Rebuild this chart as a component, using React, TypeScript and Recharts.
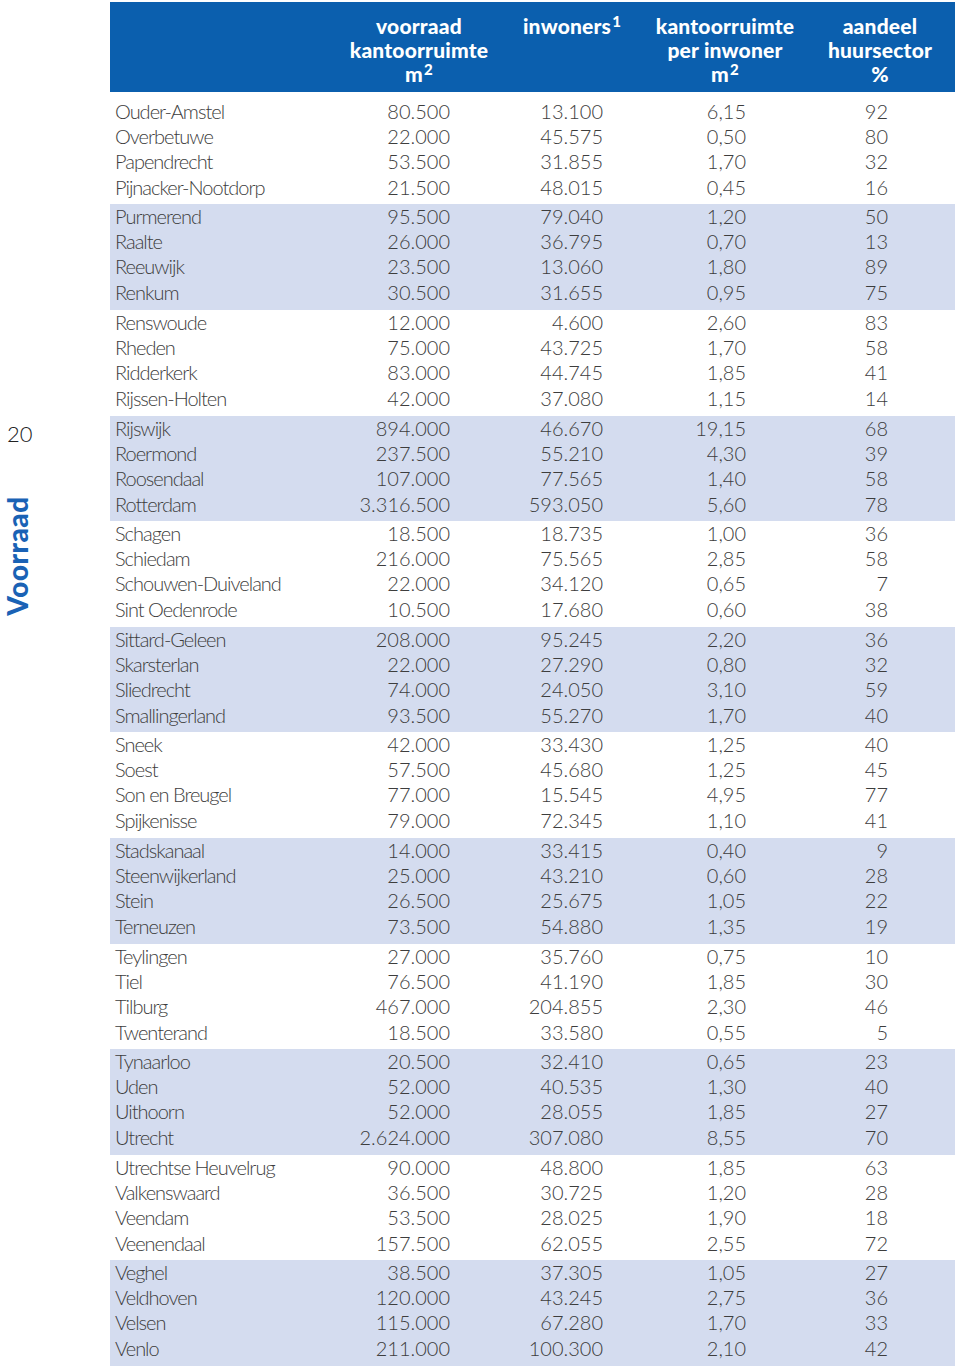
import React from 'react';
import { ComposedChart, Bar, XAxis, YAxis, LabelList } from 'recharts';

const gemeenten = [
  'Ouder-Amstel', 'Overbetuwe', 'Papendrecht', 'Pijnacker-Nootdorp',
  'Purmerend', 'Raalte', 'Reeuwijk', 'Renkum',
  'Renswoude', 'Rheden', 'Ridderkerk', 'Rijssen-Holten',
  'Rijswijk', 'Roermond', 'Roosendaal', 'Rotterdam',
  'Schagen', 'Schiedam', 'Schouwen-Duiveland', 'Sint Oedenrode',
  'Sittard-Geleen', 'Skarsterlan', 'Sliedrecht', 'Smallingerland',
  'Sneek', 'Soest', 'Son en Breugel', 'Spijkenisse',
  'Stadskanaal', 'Steenwijkerland', 'Stein', 'Terneuzen',
  'Teylingen', 'Tiel', 'Tilburg', 'Twenterand',
  'Tynaarloo', 'Uden', 'Uithoorn', 'Utrecht',
  'Utrechtse Heuvelrug', 'Valkenswaard', 'Veendam', 'Veenendaal',
  'Veghel', 'Veldhoven', 'Velsen', 'Venlo',
];

const voorraad = [
  80500, 22000, 53500, 21500,
  95500, 26000, 23500, 30500,
  12000, 75000, 83000, 42000,
  894000, 237500, 107000, 3316500,
  18500, 216000, 22000, 10500,
  208000, 22000, 74000, 93500,
  42000, 57500, 77000, 79000,
  14000, 25000, 26500, 73500,
  27000, 76500, 467000, 18500,
  20500, 52000, 52000, 2624000,
  90000, 36500, 53500, 157500,
  38500, 120000, 115000, 211000,
];

const inwoners = [
  13100, 45575, 31855, 48015,
  79040, 36795, 13060, 31655,
  4600, 43725, 44745, 37080,
  46670, 55210, 77565, 593050,
  18735, 75565, 34120, 17680,
  95245, 27290, 24050, 55270,
  33430, 45680, 15545, 72345,
  33415, 43210, 25675, 54880,
  35760, 41190, 204855, 33580,
  32410, 40535, 28055, 307080,
  48800, 30725, 28025, 62055,
  37305, 43245, 67280, 100300,
];

const perInwoner = [
  6.15, 0.5, 1.7, 0.45,
  1.2, 0.7, 1.8, 0.95,
  2.6, 1.7, 1.85, 1.15,
  19.15, 4.3, 1.4, 5.6,
  1.0, 2.85, 0.65, 0.6,
  2.2, 0.8, 3.1, 1.7,
  1.25, 1.25, 4.95, 1.1,
  0.4, 0.6, 1.05, 1.35,
  0.75, 1.85, 2.3, 0.55,
  0.65, 1.3, 1.85, 8.55,
  1.85, 1.2, 1.9, 2.55,
  1.05, 2.75, 1.7, 2.1,
];

const huursector = [
  92, 80, 32, 16,
  50, 13, 89, 75,
  83, 58, 41, 14,
  68, 39, 58, 78,
  36, 58, 7, 38,
  36, 32, 59, 40,
  40, 45, 77, 41,
  9, 28, 22, 19,
  10, 30, 46, 5,
  23, 40, 27, 70,
  63, 28, 18, 72,
  27, 36, 33, 42,
];

// header: [text, superscript]
const headerLines: [string, string][][] = [
  [['voorraad', ''], ['kantoorruimte', ''], ['m', '2']],
  [['inwoners', '1']],
  [['kantoorruimte', ''], ['per inwoner', ''], ['m', '2']],
  [['aandeel', ''], ['huursector', ''], ['%', '']],
];

const pageNumber = '20';
const sectionTitle = 'Voorraad';

// ---- layout / style ----
const TABLE_LEFT = 110;
const TABLE_WIDTH = 845;
const GROUP_TOP = 98.8;
const GROUP_PITCH = 105.6;
const ROWS_HEIGHT = 100.8;
const GROUP_SIZE = 4;
const HEADER_CENTERS = [419, 572, 725, 880];
const NAME_X = 5;
const COL_RIGHT = [340, 493, 636, 778];
const BLUE = '#0b5fae';
const BAND = '#d4dcef';
const TEXT = '#3d3d3d';
const FONT = 'Lato, "DejaVu Sans", sans-serif';

const cellStyle: React.CSSProperties = {
  fontFamily: FONT,
  fontWeight: 300,
  fontSize: 20,
  fill: TEXT,
};

const nameStyle: React.CSSProperties = { ...cellStyle, letterSpacing: -1 };

const fmtInt = (n: number) => String(n).replace(/\B(?=(\d{3})+(?!\d))/g, '.');
const fmtDec = (n: number) => n.toFixed(2).replace('.', ',');
const fmtPlain = (n: number) => String(n);

const rows = gemeenten.map((name, i) => ({
  name,
  voorraad: voorraad[i],
  inwoners: inwoners[i],
  perInwoner: perInwoner[i],
  huursector: huursector[i],
}));

const groups: typeof rows[] = [];
for (let i = 0; i < rows.length; i += GROUP_SIZE) groups.push(rows.slice(i, i + GROUP_SIZE));

const cellLabel =
  (colX: number, anchor: 'start' | 'end', fmt: (v: any) => string, style: React.CSSProperties) =>
  (props: any) => {
    const vb = props.viewBox || {};
    const y0 = props.y ?? vb.y;
    const h = props.height ?? vb.height;
    return (
      <text x={colX} y={y0 + h / 2} dy={7.5} textAnchor={anchor} style={style}>
        {fmt(props.value)}
      </text>
    );
  };

const columns: { key: string; fmt: (n: number) => string }[] = [
  { key: 'voorraad', fmt: fmtInt },
  { key: 'inwoners', fmt: fmtInt },
  { key: 'perInwoner', fmt: fmtDec },
  { key: 'huursector', fmt: fmtPlain },
];

const GroupChart = ({ data }: { data: typeof rows }) => (
  <ComposedChart
    width={TABLE_WIDTH}
    height={ROWS_HEIGHT}
    data={data}
    layout="vertical"
    margin={{ top: 0, right: 0, bottom: 0, left: 0 }}
    barCategoryGap={0}
  >
    <XAxis type="number" hide domain={[0, 'dataMax']} />
    <YAxis type="category" dataKey="name" hide />
    {columns.map((c, ci) => (
      <Bar key={c.key} dataKey={c.key} stackId="row" fill="transparent" isAnimationActive={false}>
        {ci === 0 && (
          <LabelList
            dataKey="name"
            content={cellLabel(NAME_X, 'start', (v) => String(v), nameStyle)}
          />
        )}
        <LabelList
          dataKey={c.key}
          content={cellLabel(COL_RIGHT[ci], 'end', (v) => c.fmt(Number(v)), cellStyle)}
        />
      </Bar>
    ))}
  </ComposedChart>
);

export default function App() {
  return (
    <div
      style={{
        position: 'absolute',
        left: 0,
        top: 0,
        width: 960,
        height: 1372,
        background: '#fff',
        overflow: 'hidden',
      }}
    >
      {/* header */}
      <div
        style={{
          position: 'absolute',
          left: TABLE_LEFT,
          top: 2,
          width: TABLE_WIDTH,
          height: 90,
          background: BLUE,
        }}
      >
        {headerLines.map((lines, ci) => (
          <div
            key={ci}
            style={{
              position: 'absolute',
              left: HEADER_CENTERS[ci] - TABLE_LEFT - 100,
              top: 12,
              width: 200,
              textAlign: 'center',
              color: '#fff',
              fontFamily: FONT,
              fontWeight: 900,
              fontSize: 21,
              lineHeight: '24px',
              letterSpacing: 0.2,
            }}
          >
            {lines.map(([t, sup], li) => (
              <div key={li}>
                {t}
                {sup && (
                  <span
                    style={{
                      fontSize: 15,
                      position: 'relative',
                      top: -7,
                      marginLeft: 1,
                    }}
                  >
                    {sup}
                  </span>
                )}
              </div>
            ))}
          </div>
        ))}
      </div>

      {/* groups */}
      {groups.map((g, gi) => (
        <div
          key={gi}
          style={{
            position: 'absolute',
            left: TABLE_LEFT,
            top: GROUP_TOP + gi * GROUP_PITCH,
            width: TABLE_WIDTH,
            height: GROUP_PITCH,
            background: gi % 2 === 1 ? BAND : 'transparent',
          }}
        >
          <GroupChart data={g} />
        </div>
      ))}

      {/* page number and section title */}
      <div
        style={{
          position: 'absolute',
          left: 7,
          top: 420,
          fontFamily: FONT,
          fontWeight: 300,
          fontSize: 22,
          color: '#222',
        }}
      >
        {pageNumber}
      </div>
      <div
        style={{
          position: 'absolute',
          left: 17,
          top: 556,
          transform: 'translate(-50%, -50%) rotate(-90deg)',
          fontFamily: FONT,
          fontWeight: 900,
          fontSize: 28,
          letterSpacing: 0.5,
          color: '#1a62b5',
          whiteSpace: 'nowrap',
        }}
      >
        {sectionTitle}
      </div>
    </div>
  );
}
